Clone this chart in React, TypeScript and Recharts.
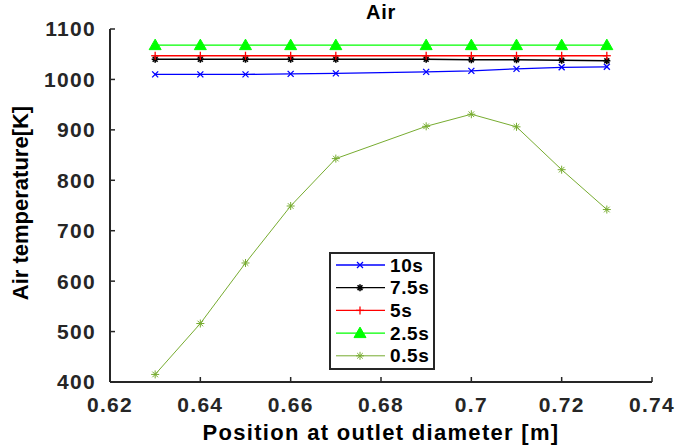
import React from "react"
import {
	LineChart,
	Line,
	XAxis,
	YAxis,
	Legend,
	Customized,
	Label
} from "recharts"

const FONT = '"Liberation Sans", Arial, sans-serif'
const AXIS = "#262626"

// position at outlet diameter [m]
const positions = [0.63, 0.64, 0.65, 0.66, 0.67, 0.69, 0.7, 0.71, 0.72, 0.73]

// air temperature [K] per time
const temp10s = [1010, 1010, 1010, 1011, 1012, 1015, 1017, 1021, 1024, 1025]
const temp7_5s = [1040, 1040, 1040, 1040, 1040, 1040, 1039, 1039, 1038, 1037]
const temp5s = [1047, 1047, 1047, 1047, 1047, 1047, 1047, 1047, 1047, 1047]
const temp2_5s = [1068, 1068, 1068, 1068, 1068, 1068, 1068, 1068, 1068, 1068]
const temp0_5s = [415, 516, 636, 749, 843, 907, 931, 906, 821, 742]

const xTicks = [0.62, 0.64, 0.66, 0.68, 0.7, 0.72, 0.74]
const yTicks = [400, 500, 600, 700, 800, 900, 1000, 1100]

const data = positions.map((x, i) => ({
	x,
	t10: temp10s[i],
	t75: temp7_5s[i],
	t5: temp5s[i],
	t25: temp2_5s[i],
	t05: temp0_5s[i]
}))

function drawMarker(kind: string, cx: number, cy: number, color: string, key?: any) {
	if (kind === "x") {
		const r = 3
		return (
			<g key={key} stroke={color} strokeWidth={1.3}>
				<line x1={cx - r} y1={cy - r} x2={cx + r} y2={cy + r} />
				<line x1={cx - r} y1={cy + r} x2={cx + r} y2={cy - r} />
			</g>
		)
	}
	if (kind === "plus") {
		const r = 4
		return (
			<g key={key} stroke={color} strokeWidth={1.3}>
				<line x1={cx - r} y1={cy} x2={cx + r} y2={cy} />
				<line x1={cx} y1={cy - r} x2={cx} y2={cy + r} />
			</g>
		)
	}
	if (kind === "tri") {
		const r = 6
		return (
			<polygon
				key={key}
				points={`${cx},${cy - r} ${cx + r},${cy + r * 0.75} ${cx - r},${cy + r * 0.75}`}
				fill={color}
				stroke={color}
			/>
		)
	}
	// asterisk
	const r = kind === "starBig" ? 4 : 3.5
	const d = r * 0.7
	return (
		<g key={key} stroke={color} strokeWidth={kind === "starBig" ? 1 : 1.6}>
			<line x1={cx - r} y1={cy} x2={cx + r} y2={cy} />
			<line x1={cx} y1={cy - r} x2={cx} y2={cy + r} />
			<line x1={cx - d} y1={cy - d} x2={cx + d} y2={cy + d} />
			<line x1={cx - d} y1={cy + d} x2={cx + d} y2={cy - d} />
		</g>
	)
}

const SERIES = [
	{ key: "t10", name: "10s", color: "#0000ff", marker: "x", width: 1.3 },
	{ key: "t75", name: "7.5s", color: "#000000", marker: "star", width: 1.3 },
	{ key: "t5", name: "5s", color: "#ff0000", marker: "plus", width: 1.3 },
	{ key: "t25", name: "2.5s", color: "#00ff00", marker: "tri", width: 1.3 },
	{ key: "t05", name: "0.5s", color: "#77ac30", marker: "starBig", width: 1 }
]

function LegendBox() {
	return (
		<svg width={106} height={118} style={{ display: "block" }}>
			<rect x={1} y={1} width={104} height={116} fill="#fff" stroke={AXIS} strokeWidth={2} />
			{SERIES.map((s, i) => {
				const y = 13 + i * 22.7
				return (
					<g key={s.key}>
						<line x1={7} y1={y} x2={56} y2={y} stroke={s.color} strokeWidth={s.width} />
						{drawMarker(s.marker, 31, y, s.color)}
						<text
							x={61}
							y={y}
							dominantBaseline="central"
							fontFamily={FONT}
							fontWeight="bold"
							fontSize={19}
							letterSpacing={0.6}
							fill="#000"
						>
							{s.name}
						</text>
					</g>
				)
			})}
		</svg>
	)
}

function Titles() {
	return (
		<g fontFamily={FONT} fontWeight="bold" fill="#000">
			<text x={381} y={19} textAnchor="middle" fontSize={20} letterSpacing={0.8}>
				Air
			</text>
			<text
				x={0}
				y={0}
				transform="translate(20,203) rotate(-90)"
				textAnchor="middle"
				dominantBaseline="central"
				fontSize={22}
			>
				Air temperature[K]
			</text>
		</g>
	)
}

export default function App() {
	return (
		<div style={{ position: "absolute", left: 0, top: 0, background: "#fff" }}>
			<LineChart
				width={696}
				height={446}
				data={data}
				margin={{ top: 29, right: 44, bottom: 0, left: 0 }}
			>
				<XAxis
					dataKey="x"
					type="number"
					domain={[0.62, 0.74]}
					ticks={xTicks}
					interval={0}
					height={64}
					tickSize={-5}
					tickMargin={20}
					tickFormatter={(v: number) => String(+v.toFixed(2))}
					axisLine={{ stroke: AXIS, strokeWidth: 2 }}
					tickLine={{ stroke: AXIS, strokeWidth: 1.5 }}
					tick={{ fill: AXIS, fontSize: 21, fontWeight: "bold", fontFamily: FONT, letterSpacing: 1.3 }}
				>
					<Label
						value="Position at outlet diameter [m]"
						position="insideBottom"
						offset={6}
						fill="#000"
						fontSize={22}
						fontWeight="bold"
						fontFamily={FONT}
						letterSpacing={1.3}
					/>
				</XAxis>
				<XAxis
					xAxisId="top"
					dataKey="x"
					type="number"
					orientation="top"
					domain={[0.62, 0.74]}
					ticks={xTicks}
					interval={0}
					height={0}
					tickSize={-5}
					tick={false}
					axisLine={{ stroke: AXIS, strokeWidth: 2 }}
					tickLine={{ stroke: AXIS, strokeWidth: 1.5 }}
				/>
				<YAxis
					type="number"
					domain={[400, 1100]}
					ticks={yTicks}
					interval={0}
					width={110}
					tickSize={-5}
					tickMargin={19}
					axisLine={{ stroke: AXIS, strokeWidth: 2 }}
					tickLine={{ stroke: AXIS, strokeWidth: 1.5 }}
					tick={{ fill: AXIS, fontSize: 21, fontWeight: "bold", fontFamily: FONT, letterSpacing: 1.3 }}
				/>
				<YAxis
					yAxisId="right"
					type="number"
					orientation="right"
					domain={[400, 1100]}
					ticks={yTicks}
					interval={0}
					width={0}
					tickSize={-5}
					tick={false}
					axisLine={{ stroke: AXIS, strokeWidth: 2 }}
					tickLine={{ stroke: AXIS, strokeWidth: 1.5 }}
				/>

				{SERIES.map((s) => (
					<Line
						key={s.key}
						dataKey={s.key}
						name={s.name}
						type="linear"
						stroke={s.color}
						strokeWidth={s.width}
						isAnimationActive={false}
						dot={(p: any) => drawMarker(s.marker, p.cx, p.cy, s.color, `${s.key}-${p.index}`)}
						activeDot={false}
					/>
				))}

				<Legend
					layout="vertical"
					align="center"
					verticalAlign="middle"
					content={() => <LegendBox />}
					wrapperStyle={{ position: "absolute", left: 329, top: 252, width: 106, height: 118 }}
				/>
				<Customized component={Titles} />
			</LineChart>
		</div>
	)
}
